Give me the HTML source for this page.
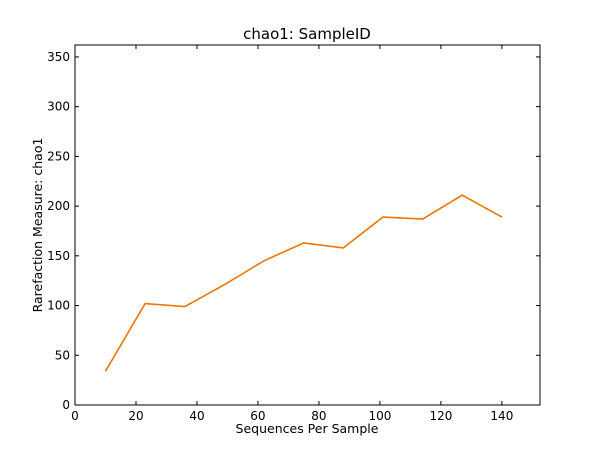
<!DOCTYPE html>
<html><head><meta charset="utf-8"><style>
body{margin:0;background:#fff;}
svg text{font-family:"DejaVu Sans","Liberation Sans",sans-serif;}
</style></head><body>
<svg id="chart" width="600" height="450" xmlns="http://www.w3.org/2000/svg">
<rect width="600" height="450" fill="#fff"/>
<text x="307" y="39" font-size="15" text-anchor="middle">chao1: SampleID</text>
<g id="axes"></g>
<text x="307" y="433" font-size="12.5" text-anchor="middle">Sequences Per Sample</text>
<text transform="translate(42,225) rotate(-90)" font-size="12.5" text-anchor="middle">Rarefaction Measure: chao1</text>
</svg>
<script>
const seqs = [10, 23, 36, 49, 62, 75, 88, 101, 114, 127, 140];
const chao1 = [34, 102, 99, 121, 145, 163, 158, 189, 187, 211, 189];
const xTicks = [0, 20, 40, 60, 80, 100, 120, 140];
const yTicks = [0, 50, 100, 150, 200, 250, 300, 350];
const L=75,R=540,T=45,B=405,XMAX=152.5,YMAX=362;
const sx=v=>L+v/XMAX*(R-L), sy=v=>B-v/YMAX*(B-T);
const NS="http://www.w3.org/2000/svg";
const g=document.getElementById('axes');
function mk(tag,attrs){const e=document.createElementNS(NS,tag);for(const k in attrs)e.setAttribute(k,attrs[k]);g.appendChild(e);return e;}
const frame=mk('rect',{x:L,y:T,width:R-L,height:B-T,fill:'none',stroke:'#000','stroke-width':1});


xTicks.forEach(v=>{const x=sx(v);
 const t=mk('line',{x1:x,x2:x,y1:B,y2:B-4,stroke:'#000'});
 
 
 mk('line',{x1:x,x2:x,y1:T,y2:T+4,stroke:'#000'});
 const l=mk('text',{x:x,y:B+15,'font-size':12,'text-anchor':'middle'});l.textContent=v;
 
 
});
yTicks.forEach(v=>{const y=sy(v);
 const t=mk('line',{x1:L,x2:L+4,y1:y,y2:y,stroke:'#000'});
 
 
 mk('line',{x1:R,x2:R-4,y1:y,y2:y,stroke:'#000'});
 const l=mk('text',{x:L-5,y:y+4,'font-size':12,'text-anchor':'end'});l.textContent=v;
 
 
});
const line=mk('polyline',{points:seqs.map((s,i)=>sx(s)+','+sy(chao1[i])).join(' '),fill:'none',stroke:'#f07400','stroke-width':1.6});


</script>
</body></html>
